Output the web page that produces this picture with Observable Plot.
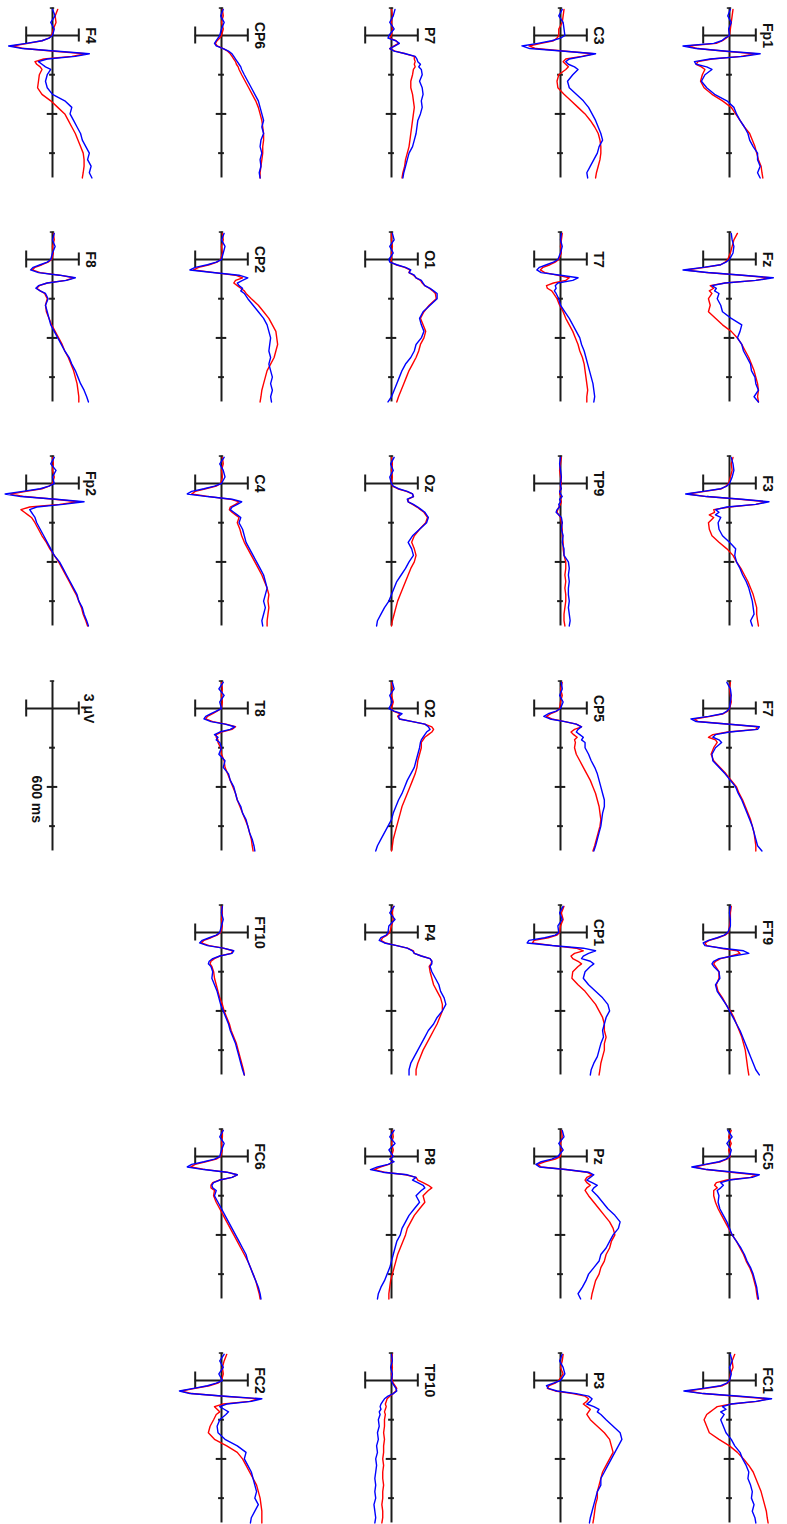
<!DOCTYPE html>
<html>
<head>
<meta charset="utf-8">
<script src="https://cdn.jsdelivr.net/npm/d3@7"></script>
<script src="https://cdn.jsdelivr.net/npm/@observablehq/plot@0.6"></script>
<style>
  html, body { margin: 0; padding: 0; background: #fff; overflow: hidden; }
  #grid { position: relative; width: 787px; height: 1524px; overflow: hidden; }
  #grid > div { position: absolute; }
  #grid svg { display: block; }
</style>
</head>
<body>
<div id="grid"></div>
<script>
// Sample times (ms) shared by every averaged trace
const times = [-200,-150,-100,-50,0,20,40,60,80,100,120,140,160,180,200,220,240,260,300,350,400,450,500,550,600,650,700,750,800,850,900,950,1000,1050,1090];

// Condition names and colours (condition 1 red, condition 2 blue)
const conditions = ["condition 1", "condition 2"];
const conditionColors = ["#ff0000", "#0000ff"];

// Channel layout, row by row (null = no electrode, "scale" = calibration bar)
const montage = [
  ["F4",    "CP6",  "P7",   "C3",  "Fp1"],
  ["F8",    "CP2",  "O1",   "T7",  "Fz"],
  ["Fp2",   "C4",   "Oz",   "TP9", "F3"],
  ["scale", "T8",   "O2",   "CP5", "F7"],
  [null,    "FT10", "P4",   "CP1", "FT9"],
  [null,    "FC6",  "P8",   "Pz",  "FC5"],
  [null,    "FC2",  "TP10", "P3",  "FC1"]
];

// Calibration: amplitude bar (µV) and time ticks (ms)
const scaleAmplitude = 3;
const scaleTicks = [300, 600, 900];
const scaleLabels = ["3 μV", "600 ms"];
const epoch = [-210, 1090];

// Averaged ERPs in µV, one array per channel and condition
const Fp1_c1 = [0.4,0.3,0.2,0.1,0,-0.4,-0.8,-1.5,-4.8,-3.6,-0.5,3.0,1.3,-2.0,-3.6,-3.8,-3.2,-2.8,-3.1,-3.3,-2.9,-2.0,-0.8,0.2,0.7,1.2,1.7,2.3,2.6,2.9,3.1,3.3,3.6,3.7,3.8];
const Fp1_c2 = [0.1,-0.2,0.2,-0.1,0,-0.5,-0.9,-1.8,-5.3,-3.8,-0.3,3.5,1.6,-2.2,-4.0,-3.8,-2.6,-2.0,-2.8,-3.2,-2.6,-1.7,-0.3,0.5,0.8,1.2,1.7,2.1,2.3,2.7,3.2,3.2,3.5,3.2,3.5];
const Fz_c1 = [0.9,0.5,0.3,0.1,-0.2,-0.5,-1.0,-2.8,-5.0,-2.6,1.4,4.6,3.0,-0.5,-2.2,-1.8,-2.3,-2.0,-2.4,-2.2,-2.4,-1.6,-0.8,0.2,0.9,1.4,1.8,2.2,2.5,2.8,3.0,3.2,3.3,3.2,3.3];
const Fz_c2 = [0.2,0.3,0.5,0.4,0,-0.4,-1.0,-3.0,-5.3,-2.5,1.5,5.0,3.0,-0.5,-2.0,-1.5,-1.7,-1.2,-1.4,-1.0,-0.8,0.2,1.4,1.2,0.9,1.4,1.6,2.0,2.4,2.5,2.9,3.0,3.3,2.8,3.3];
const F3_c1 = [0.4,0.2,0.3,0.1,-0.1,-0.4,-0.9,-2.8,-4.8,-2.6,1.2,4.2,3.0,0.0,-1.8,-1.7,-2.3,-1.8,-2.4,-2.3,-2.0,-1.2,-0.3,0.4,0.8,1.3,1.7,2.1,2.4,2.7,2.9,3.1,3.1,3.2,3.3];
const F3_c2 = [0.2,0.4,0.5,0.3,0,-0.3,-1.0,-3.0,-5.0,-2.6,1.4,4.5,3.0,-0.3,-1.6,-1.2,-1.6,-1.0,-1.3,-1.2,-0.8,0.0,0.7,0.6,0.8,1.2,1.5,1.9,2.2,2.4,2.6,2.7,2.8,2.4,2.6];
const F7_c1 = [0.1,0.0,0.1,0.2,0,-0.2,-0.7,-2.2,-4.0,-3.6,0.0,3.2,3.0,-0.2,-1.9,-2.4,-1.6,-1.4,-1.8,-2.1,-1.8,-1.1,-0.4,0.2,0.8,1.1,1.5,1.8,2.1,2.4,2.6,2.8,2.9,3.0,3.0];
const F7_c2 = [-0.3,0.1,0.2,0.1,0,-0.3,-0.8,-2.4,-4.4,-3.8,0.0,3.4,3.2,0.0,-1.6,-1.9,-1.2,-0.9,-1.6,-2.0,-1.9,-1.2,-0.5,0.1,0.7,1.0,1.4,1.7,2.0,2.3,2.6,2.8,3.0,3.2,3.7];
const FT9_c1 = [0.2,0.1,0.1,0.0,-0.1,-0.5,-1.3,-2.3,-2.8,-2.6,-1.0,0.9,1.2,0.2,-1.0,-1.6,-1.8,-1.6,-1.2,-1.2,-1.5,-1.3,-0.8,-0.4,0.1,0.5,0.8,1.1,1.4,1.6,1.8,1.9,2.0,2.1,2.2];
const FT9_c2 = [0.1,0.0,0.1,0.1,-0.2,-0.6,-1.4,-2.4,-3.0,-2.8,-0.8,1.6,2.2,0.4,-1.2,-1.8,-2.0,-1.8,-1.2,-1.1,-1.6,-1.4,-0.9,-0.4,0.0,0.4,0.8,1.2,1.5,1.8,2.1,2.4,2.7,3.0,3.4];
const FC5_c1 = [0.2,-0.1,0.2,-0.1,0.1,-0.3,-1.0,-2.6,-4.0,-2.6,0.2,3.0,2.4,-0.3,-1.5,-1.7,-1.4,-1.8,-1.8,-1.6,-1.3,-0.9,-0.5,-0.1,0.3,0.8,1.2,1.6,1.9,2.3,2.6,2.8,3.0,3.1,3.2];
const FC5_c2 = [-0.2,0.3,-0.3,0.2,0.0,-0.4,-1.2,-2.8,-4.3,-2.6,0.6,3.4,2.6,0.0,-1.0,-0.7,-1.0,-1.4,-1.2,-1.3,-1.1,-0.7,-0.3,0.0,0.3,0.8,1.3,1.7,2.0,2.4,2.7,2.9,3.1,3.2,3.3];
const FC1_c1 = [0.6,0.3,0.4,0.1,0.0,-0.2,-0.8,-2.7,-4.8,-3.0,0.8,4.4,3.2,0.2,-1.4,-1.8,-2.2,-2.6,-2.9,-2.6,-2.3,-1.2,0.0,0.9,1.6,2.2,2.7,3.0,3.3,3.6,3.8,4.0,4.2,4.3,4.4];
const FC1_c2 = [0.1,0.3,0.0,0.2,0.0,-0.3,-1.0,-3.0,-5.2,-3.0,1.2,4.8,3.0,0.2,-0.8,-0.4,-1.0,-0.6,-1.0,-0.7,-0.4,0.2,0.6,1.2,1.5,1.9,2.2,2.1,2.4,2.6,2.5,2.8,2.6,2.9,3.0];
const C3_c1 = [0.4,0.3,0.2,-0.2,-0.2,-0.4,-0.8,-2.2,-3.6,-2.8,0.6,3.8,2.4,0.6,0.3,0.6,0.9,0.6,-0.2,-0.4,-0.3,0.4,1.2,2.0,2.8,3.4,3.9,4.3,4.5,4.6,4.6,4.5,4.3,4.1,4.0];
const C3_c2 = [0.2,-0.2,0.3,0.4,0.5,0.0,-1.0,-2.6,-4.4,-3.5,0.5,4.0,2.6,1.0,0.6,0.9,1.6,2.0,1.4,0.8,1.0,1.8,2.6,3.2,3.6,4.0,4.3,4.6,4.8,4.4,4.2,3.8,3.4,3.0,3.1];
const T7_c1 = [0.2,0.1,0.0,0.1,-0.2,-0.6,-1.2,-2.0,-2.3,-1.8,-0.4,1.0,0.6,-0.8,-1.6,-1.5,-1.0,-0.8,-0.4,-0.1,0.3,0.6,1.0,1.4,1.7,2.0,2.2,2.5,2.7,2.8,2.9,3.0,3.1,3.0,3.0];
const T7_c2 = [0.1,0.0,0.2,0.0,-0.3,-0.8,-1.6,-2.4,-2.7,-2.2,0.0,2.0,1.4,-0.3,-0.6,-0.5,-0.7,-0.5,-0.2,0.0,0.5,1.0,1.4,1.8,2.2,2.4,2.7,2.9,3.1,3.3,3.5,3.7,3.8,3.9,3.8];
const TP9_c1 = [0.1,0.0,-0.1,0.0,0.1,0.0,0.0,0.0,-0.1,0.1,0.0,0.1,0.0,-0.2,-0.3,-0.4,-0.2,0.0,0.1,0.2,0.2,0.3,0.3,0.4,0.6,0.6,0.5,0.6,0.5,0.6,0.6,0.5,0.4,0.4,0.5];
const TP9_c2 = [0.0,-0.1,0.0,0.1,0.0,0.0,0.1,-0.1,0.0,0.2,-0.1,0.0,-0.2,-0.1,-0.4,-0.5,-0.2,0.1,0.2,0.1,0.3,0.2,0.4,0.4,0.9,1.0,0.9,1.0,0.9,0.9,1.0,0.9,1.0,1.1,1.0];
const CP5_c1 = [0.2,0.0,0.2,0.0,-0.1,-0.4,-1.1,-1.6,-1.0,0.5,1.8,2.4,1.6,1.2,1.5,1.9,1.6,1.7,1.6,1.8,2.2,2.6,3.0,3.4,3.7,4.0,4.2,4.4,4.5,4.6,4.5,4.3,4.1,3.9,3.7];
const CP5_c2 = [0.1,0.2,-0.1,0.3,0.0,-0.5,-1.4,-1.9,-1.2,0.5,1.8,2.4,2.0,1.8,2.2,2.6,2.4,2.8,2.8,3.2,3.5,3.9,4.2,4.4,4.6,4.8,5.0,5.0,4.8,4.7,4.6,4.4,4.2,4.0,3.8];
const CP1_c1 = [0.4,0.1,0.3,0.0,-0.1,-0.4,-1.4,-3.0,-3.2,-0.8,1.8,2.6,1.6,1.2,1.4,2.0,2.4,2.0,1.4,1.3,2.0,2.8,3.4,4.0,4.4,4.8,5.0,5.0,5.2,5.0,5.0,4.8,4.6,4.5,4.4];
const CP1_c2 = [0.3,-0.1,0.2,-0.3,-0.2,-0.6,-1.8,-3.6,-3.8,-1.0,2.6,4.0,3.2,2.6,2.4,3.4,3.8,3.4,2.8,2.6,3.2,4.0,4.8,5.4,5.6,5.2,5.0,4.8,4.9,4.6,4.4,4.2,3.8,3.5,3.4];
const Pz_c1 = [0.1,0.2,0.0,0.1,0.0,-0.6,-1.8,-2.6,-2.2,0.6,3.0,3.6,3.0,2.8,3.0,3.4,3.0,2.8,3.2,3.8,4.4,5.0,5.6,6.0,6.2,5.8,5.6,5.2,5.0,4.6,4.4,4.0,3.8,3.6,3.5];
const Pz_c2 = [0.2,0.4,-0.2,0.3,-0.3,-1.0,-2.2,-2.8,-2.4,0.6,3.2,3.8,3.4,3.0,3.6,4.2,3.8,3.6,4.2,4.8,5.4,6.2,6.8,6.6,6.0,5.6,5.2,4.6,4.4,3.8,3.2,2.9,2.5,2.0,2.3];
const P3_c1 = [0.3,0.2,0.0,0.3,-0.2,-0.6,-1.3,-1.5,-0.6,1.4,2.8,3.2,3.0,2.6,3.0,3.4,3.2,3.0,3.4,4.2,5.0,5.6,5.8,6.0,5.6,5.2,4.8,4.6,4.4,4.2,4.2,4.0,3.9,3.8,3.7];
const P3_c2 = [0.2,-0.1,0.3,0.5,0.0,-0.8,-1.6,-1.4,-0.4,1.8,3.2,3.6,3.4,3.0,3.8,4.4,4.2,4.6,5.2,6.0,6.8,7.0,6.6,6.2,5.8,5.4,5.0,4.6,4.6,4.2,4.0,3.8,3.6,3.4,3.3];
const P7_c1 = [0.0,0.1,0.0,0.1,0.0,-0.2,0.5,0.8,0.3,-0.2,0.4,1.6,2.6,2.6,2.7,2.6,2.7,2.5,2.4,2.2,2.2,2.4,2.5,2.6,2.5,2.4,2.3,2.2,2.1,2.0,1.8,1.6,1.5,1.3,1.2];
const P7_c2 = [0.4,0.2,-0.2,0.3,-0.3,-0.4,0.5,0.9,0.4,-0.2,0.3,1.6,2.7,2.9,3.0,3.3,3.1,3.4,3.5,3.2,3.5,3.6,3.4,3.5,3.3,3.0,2.9,2.8,2.6,2.4,2.0,1.8,1.6,1.4,1.3];
const O1_c1 = [0.0,0.0,0.1,0.0,0.0,-0.1,0.5,1.5,2.1,2.0,2.5,2.8,3.3,3.5,3.8,4.3,4.7,5.0,5.1,4.3,3.7,3.3,3.6,3.9,3.7,3.3,3.1,2.8,2.4,2.0,1.7,1.4,1.1,0.8,0.6];
const O1_c2 = [0.1,0.3,-0.2,0.2,-0.3,-0.2,0.6,1.6,2.2,2.0,2.6,2.8,3.4,3.6,3.8,4.4,4.8,5.2,5.2,4.4,3.6,3.2,3.4,3.7,3.4,2.8,2.6,2.2,1.6,1.2,0.9,0.6,0.3,0.0,-0.4];
const Oz_c1 = [0.0,0.1,0.0,0.1,0.0,0.1,0.7,1.7,2.4,2.5,1.9,1.9,2.4,2.9,3.3,3.7,3.9,4.1,3.9,3.2,2.6,2.3,2.6,2.8,2.6,2.2,1.9,1.6,1.3,1.0,0.7,0.5,0.3,0.1,0.0];
const Oz_c2 = [0.3,-0.1,0.2,-0.2,0.0,0.2,0.8,1.8,2.4,2.5,1.8,1.9,2.5,3.0,3.4,3.8,4.0,4.2,4.0,3.2,2.4,1.9,2.3,2.5,2.0,1.6,1.1,0.6,0.3,0.0,-0.3,-0.8,-1.2,-1.6,-1.7];
const O2_c1 = [0.0,0.1,0.0,0.2,0.0,0.2,1.0,0.7,0.9,2.4,3.8,4.6,4.8,4.6,4.2,3.8,3.6,3.4,3.4,3.2,3.0,2.9,2.7,2.4,2.1,1.8,1.5,1.2,1.0,0.8,0.6,0.4,0.2,0.1,0.0];
const O2_c2 = [0.1,0.3,-0.2,0.1,-0.3,0.3,1.2,0.8,0.9,2.4,3.8,4.2,4.4,4.0,3.8,3.6,3.4,3.3,3.2,3.0,2.8,2.6,2.2,1.8,1.5,1.2,0.8,0.5,0.2,0.0,-0.4,-0.8,-1.2,-1.6,-1.8];
const P4_c1 = [0.2,0.1,0.2,0.0,-0.2,-0.5,-1.0,-1.2,-0.7,0.6,1.8,2.5,2.6,3.4,4.4,4.6,4.5,4.3,4.4,4.6,4.8,5.2,5.6,5.8,5.8,5.5,5.2,4.8,4.4,4.0,3.6,3.3,3.0,2.8,2.8];
const P4_c2 = [0.3,-0.2,0.4,-0.3,-0.4,-0.6,-1.2,-1.4,-0.8,0.6,1.8,2.4,2.6,3.4,4.4,4.6,4.6,4.4,4.6,5.0,5.4,5.6,6.0,6.2,5.8,5.2,4.8,4.2,3.8,3.4,3.0,2.6,2.2,2.0,2.0];
const P8_c1 = [0.1,0.2,0.0,0.2,0.0,-0.1,0.2,-0.3,-1.2,-2.0,-0.8,1.6,2.8,3.0,3.6,4.2,4.6,4.2,3.6,3.8,3.2,2.6,2.2,1.8,1.6,1.3,1.0,0.7,0.5,0.3,0.1,-0.1,-0.2,-0.3,-0.3];
const P8_c2 = [0.3,-0.2,0.4,-0.3,0.2,-0.2,0.3,-0.4,-1.6,-2.4,-1.0,1.8,2.8,2.4,3.0,3.6,3.8,3.4,2.8,3.2,2.6,2.0,1.6,1.2,1.0,0.6,0.4,0.2,0.0,-0.2,-0.5,-0.8,-1.2,-1.5,-1.6];
const TP10_c1 = [0.1,0.0,0.1,0.0,0.1,0.2,0.4,0.6,0.5,0.2,-0.2,-0.5,-0.6,-0.7,-0.6,-0.7,-0.8,-0.7,-0.8,-0.8,-0.9,-0.8,-0.9,-0.9,-1.0,-0.9,-1.0,-1.0,-0.9,-1.0,-1.0,-1.1,-1.0,-1.0,-1.1];
const TP10_c2 = [0.0,0.1,-0.1,0.1,0.0,0.1,0.3,0.5,0.6,0.2,-0.4,-0.8,-1.0,-1.2,-1.3,-1.2,-1.4,-1.3,-1.5,-1.4,-1.6,-1.5,-1.7,-1.6,-1.8,-1.7,-1.8,-1.9,-1.8,-1.9,-1.8,-2.0,-1.9,-1.8,-1.9];
const CP6_c1 = [0.1,0.2,0.0,0.2,0.0,-0.2,-0.5,-0.7,-0.5,0.2,0.7,1.0,1.2,1.4,1.6,1.7,1.9,2.0,2.3,2.7,3.1,3.5,3.9,4.2,4.4,4.6,4.7,4.8,4.8,4.7,4.7,4.6,4.5,4.4,4.4];
const CP6_c2 = [0.2,-0.1,0.3,0.0,-0.2,-0.4,-0.6,-0.8,-0.6,0.2,0.8,1.2,1.4,1.6,1.8,2.0,2.2,2.3,2.6,3.0,3.4,3.8,4.2,4.4,4.6,4.8,4.6,4.8,4.5,4.4,4.6,4.4,4.5,4.3,4.4];
const CP2_c1 = [0.1,0.2,0.0,0.1,-0.1,-0.5,-1.4,-2.6,-3.2,-0.8,1.6,2.4,1.6,1.4,1.8,2.2,2.6,2.8,3.4,4.2,4.8,5.4,5.8,6.2,6.3,6.4,6.2,6.0,5.6,5.2,5.0,4.8,4.6,4.5,4.4];
const CP2_c2 = [0.3,0.0,0.4,0.2,0.0,-0.6,-1.6,-3.0,-3.6,-1.0,2.0,3.0,2.4,1.8,2.0,2.4,2.2,2.6,3.0,3.6,4.2,4.8,5.2,5.4,5.6,5.5,5.4,5.6,5.4,5.6,5.8,5.6,5.8,5.6,5.7];
const C4_c1 = [0.1,0.2,0.0,0.1,-0.1,-0.6,-1.8,-3.0,-3.4,-1.4,1.0,2.0,1.6,1.0,0.9,1.2,1.6,2.0,1.8,2.1,2.3,2.6,3.0,3.4,3.8,4.2,4.6,4.9,5.2,5.4,5.3,5.4,5.3,5.2,5.2];
const C4_c2 = [0.3,-0.2,0.2,0.4,0.0,-0.8,-2.0,-3.4,-3.9,-1.6,1.2,2.3,1.8,1.2,1.0,1.4,1.8,2.2,2.0,2.4,2.6,2.8,3.2,3.6,4.0,4.4,4.8,5.0,5.2,5.0,4.8,5.0,4.8,4.6,4.7];
const T8_c1 = [0.0,0.1,0.0,0.1,0.0,-0.5,-1.0,-1.6,-1.8,-1.0,0.5,1.6,1.2,0.0,-0.6,-0.6,-0.4,-0.4,-0.1,0.0,0.3,0.4,0.7,1.0,1.3,1.6,1.8,2.1,2.4,2.7,3.0,3.2,3.4,3.5,3.6];
const T8_c2 = [0.2,-0.3,0.3,-0.2,0.0,-0.6,-1.2,-1.8,-2.0,-1.2,0.4,1.5,1.0,-0.2,-0.8,-0.4,-0.6,-0.2,0.0,-0.3,0.4,0.2,0.8,1.0,1.4,1.6,1.8,2.2,2.4,2.8,3.0,3.2,3.5,3.7,3.8];
const FT10_c1 = [0.0,0.1,0.0,0.1,-0.1,-0.5,-1.2,-2.0,-2.3,-1.4,0.2,1.3,1.1,-0.2,-0.8,-1.2,-1.3,-1.1,-0.9,-0.8,-0.6,-0.4,-0.2,0.1,0.3,0.6,0.9,1.1,1.4,1.7,1.9,2.1,2.3,2.5,2.6];
const FT10_c2 = [0.1,0.0,0.2,0.0,-0.2,-0.6,-1.4,-2.2,-2.5,-1.6,0.2,1.4,1.2,-0.2,-1.0,-1.4,-1.5,-1.2,-1.0,-1.1,-0.8,-0.5,-0.3,-0.1,0.2,0.5,0.8,1.0,1.3,1.6,1.8,2.0,2.2,2.4,2.6];
const FC6_c1 = [0.1,0.1,0.0,0.1,-0.1,-0.6,-1.8,-3.0,-3.5,-1.8,0.6,1.8,1.2,-0.2,-1.0,-1.2,-1.2,-0.8,-0.9,-0.6,-0.2,0.2,0.6,1.0,1.4,1.8,2.2,2.6,3.0,3.3,3.6,3.9,4.1,4.3,4.4];
const FC6_c2 = [0.2,-0.2,0.3,0.0,-0.2,-0.8,-2.0,-3.4,-3.9,-2.0,0.6,1.8,1.2,-0.2,-0.9,-1.1,-1.0,-0.6,-0.8,-0.4,0.0,0.4,0.8,1.2,1.6,2.0,2.4,2.8,3.0,3.3,3.6,3.9,4.2,4.4,4.5];
const FC2_c1 = [0.6,0.3,0.1,0.2,0.0,-0.4,-1.4,-3.0,-4.6,-3.4,0.2,4.2,3.2,0.2,-0.8,-0.5,-0.2,-0.6,-0.9,-1.3,-1.5,-0.8,0.6,1.8,2.4,2.8,3.2,3.6,4.0,4.2,4.4,4.5,4.6,4.6,4.6];
const FC2_c2 = [0.3,-0.2,0.2,-0.3,0.1,-0.6,-1.6,-3.2,-4.8,-3.6,0.4,4.6,3.4,0.6,-0.2,0.3,0.8,0.5,-0.2,-0.5,-0.4,0.4,1.8,2.8,2.6,3.0,3.4,3.6,3.8,4.0,3.8,4.2,3.8,3.4,3.3];
const F4_c1 = [0.6,0.3,0.4,0.1,-0.1,-0.4,-1.2,-2.8,-4.6,-3.2,0.2,3.8,2.2,-1.0,-2.0,-1.8,-1.4,-1.2,-1.5,-1.6,-1.7,-1.2,-0.2,0.6,1.4,1.8,2.2,2.6,2.9,3.2,3.5,3.6,3.6,3.5,3.4];
const F4_c2 = [0.0,0.3,-0.2,0.2,0.0,-0.4,-1.2,-3.0,-5.0,-3.4,0.6,4.2,2.6,-0.6,-1.6,-1.2,-0.8,-0.2,-0.6,-0.8,-0.6,0.0,1.4,2.2,2.0,2.4,2.8,3.2,3.4,3.8,4.2,4.0,4.4,4.2,4.5];
const F8_c1 = [0.1,0.2,0.0,0.1,-0.1,-0.5,-1.2,-2.0,-2.3,-1.4,0.8,2.4,1.5,-0.6,-1.5,-1.8,-1.4,-0.9,-0.6,-0.8,-0.7,-0.4,-0.1,0.3,0.7,1.1,1.4,1.8,2.1,2.4,2.6,2.8,2.9,3.0,3.0];
const F8_c2 = [0.2,0.0,0.3,0.0,-0.2,-0.6,-1.4,-2.2,-2.5,-1.6,0.8,2.6,1.6,-0.6,-1.6,-1.9,-1.4,-0.8,-0.5,-0.8,-0.6,-0.4,-0.2,0.2,0.6,1.0,1.4,1.9,2.2,2.6,2.9,3.2,3.6,3.9,4.1];
const Fp2_c1 = [0.0,0.1,0.0,0.2,0.0,-0.4,-1.2,-3.0,-4.8,-3.2,0.2,3.0,0.8,-2.6,-3.6,-3.2,-2.8,-2.4,-2.0,-1.6,-1.2,-0.7,-0.3,0.2,0.7,1.1,1.5,1.9,2.3,2.7,3.0,3.3,3.5,3.8,4.0];
const Fp2_c2 = [0.2,-0.2,0.4,0.0,0.2,-0.4,-1.4,-3.4,-5.4,-3.6,0.4,3.6,1.2,-1.8,-2.6,-2.4,-2.2,-2.0,-1.8,-1.4,-1.0,-0.6,-0.2,0.2,0.8,1.2,1.6,2.0,2.4,2.8,3.0,3.4,3.6,3.9,4.1];

// Channel name -> [condition 1, condition 2]
const erps = {
  Fp1: [Fp1_c1, Fp1_c2], Fz: [Fz_c1, Fz_c2], F3: [F3_c1, F3_c2], F7: [F7_c1, F7_c2],
  FT9: [FT9_c1, FT9_c2], FC5: [FC5_c1, FC5_c2], FC1: [FC1_c1, FC1_c2],
  C3: [C3_c1, C3_c2], T7: [T7_c1, T7_c2], TP9: [TP9_c1, TP9_c2], CP5: [CP5_c1, CP5_c2],
  CP1: [CP1_c1, CP1_c2], Pz: [Pz_c1, Pz_c2], P3: [P3_c1, P3_c2],
  P7: [P7_c1, P7_c2], O1: [O1_c1, O1_c2], Oz: [Oz_c1, Oz_c2], O2: [O2_c1, O2_c2],
  P4: [P4_c1, P4_c2], P8: [P8_c1, P8_c2], TP10: [TP10_c1, TP10_c2],
  CP6: [CP6_c1, CP6_c2], CP2: [CP2_c1, CP2_c2], C4: [C4_c1, C4_c2], T8: [T8_c1, T8_c2],
  FT10: [FT10_c1, FT10_c2], FC6: [FC6_c1, FC6_c2], FC2: [FC2_c1, FC2_c2],
  F4: [F4_c1, F4_c2], F8: [F8_c1, F8_c2], Fp2: [Fp2_c1, Fp2_c2]
};

// ---- layout and styling ----
const PX_PER_UV = 8.77;      // horizontal pixels per µV
const PX_PER_MS = 0.1307;    // vertical pixels per ms
const PANEL_W = 130, PANEL_H = 224;
const AXIS_X = 52, ZERO_Y = 35;  // where 0 µV / 0 ms fall inside a panel
const COL_STEP = 169.25, ROW_STEP = 224.17;
const AXIS_COLOR = "#1c1c1c";
const FONT = "'Liberation Sans', Arial, Helvetica, sans-serif";
const LABEL = {fontSize: 14, fontWeight: "bold", fill: "#111", rotate: 90};

const xDomain = [-AXIS_X / PX_PER_UV, (PANEL_W - AXIS_X) / PX_PER_UV];
const yDomain = [-ZERO_Y / PX_PER_MS, (PANEL_H - ZERO_Y) / PX_PER_MS];

function frameMarks() {
  const a = scaleAmplitude;
  return [
    Plot.ruleX([0], {y1: epoch[0], y2: epoch[1], stroke: AXIS_COLOR, strokeWidth: 2}),
    Plot.ruleY([epoch[0]], {x1: -0.25, x2: 0.25, stroke: AXIS_COLOR, strokeWidth: 1.5}),
    Plot.ruleY(scaleTicks, {
      x1: t => (t === 600 ? -0.6 : -0.33),
      x2: t => (t === 600 ? 0.6 : 0.33),
      stroke: AXIS_COLOR, strokeWidth: 2
    }),
    Plot.ruleY([0], {x1: -a, x2: a, stroke: AXIS_COLOR, strokeWidth: 2}),
    Plot.ruleX([-a], {y1: -65, y2: 65, stroke: AXIS_COLOR, strokeWidth: 2}),
    Plot.ruleX([a], {y1: -50, y2: 50, stroke: AXIS_COLOR, strokeWidth: 2})
  ];
}

function panel(name) {
  const marks = frameMarks();
  if (name === "scale") {
    marks.push(
      Plot.text([scaleLabels[0]], {x: 4.1, y: 0, text: d => d, ...LABEL}),
      Plot.text([scaleLabels[1]], {x: -1.85, y: 695, text: d => d, ...LABEL})
    );
  } else {
    erps[name].forEach((values, i) => {
      const rows = times.map((t, j) => ({t, v: values[j]}));
      marks.push(Plot.line(rows, {x: "v", y: "t", stroke: conditionColors[i], strokeWidth: 1.4}));
    });
    marks.push(Plot.text([name], {x: 4.33, y: 0, text: d => d, ...LABEL}));
  }
  return Plot.plot({
    width: PANEL_W,
    height: PANEL_H,
    margin: 0,
    x: {domain: xDomain, axis: null},
    y: {domain: yDomain, reverse: true, axis: null},
    style: {fontFamily: FONT, background: "transparent", overflow: "visible"},
    marks
  });
}

const grid = document.getElementById("grid");
montage.forEach((row, r) => {
  row.forEach((name, c) => {
    if (!name) return;
    const cell = document.createElement("div");
    cell.style.left = (c * COL_STEP) + "px";
    cell.style.top = (r * ROW_STEP) + "px";
    cell.style.width = PANEL_W + "px";
    cell.style.height = PANEL_H + "px";
    cell.appendChild(panel(name));
    grid.appendChild(cell);
  });
});
</script>
</body>
</html>
